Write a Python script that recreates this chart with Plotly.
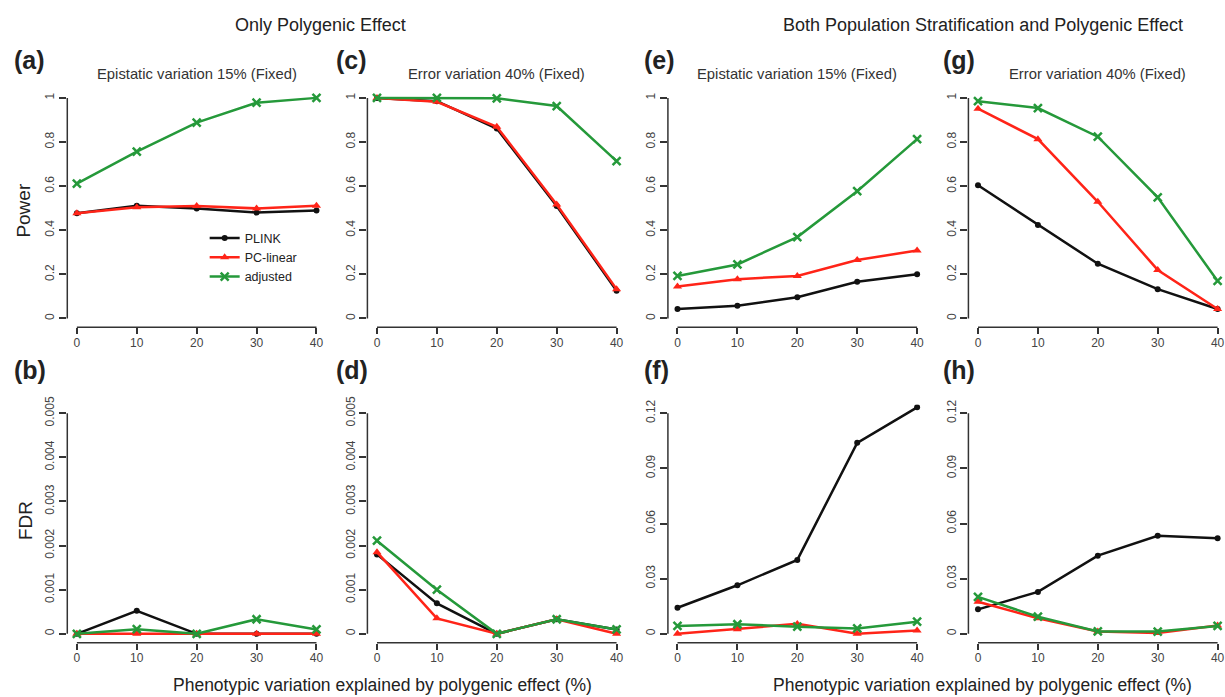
import plotly.graph_objects as go

W, H = 1225, 697

x_vals = [0, 10, 20, 30, 40]
series_names = ["PLINK", "PC-linear", "adjusted"]

# Power panels
power_a = {"PLINK": [0.477, 0.511, 0.499, 0.480, 0.489],
           "PC-linear": [0.477, 0.504, 0.510, 0.499, 0.511],
           "adjusted": [0.611, 0.756, 0.888, 0.978, 1.000]}
power_c = {"PLINK": [1.000, 0.985, 0.861, 0.510, 0.126],
           "PC-linear": [1.000, 0.982, 0.869, 0.517, 0.133],
           "adjusted": [1.000, 1.000, 0.998, 0.963, 0.713]}
power_e = {"PLINK": [0.043, 0.058, 0.096, 0.166, 0.200],
           "PC-linear": [0.145, 0.178, 0.193, 0.265, 0.308],
           "adjusted": [0.193, 0.245, 0.369, 0.577, 0.813]}
power_g = {"PLINK": [0.604, 0.424, 0.248, 0.133, 0.043],
           "PC-linear": [0.951, 0.813, 0.529, 0.220, 0.043],
           "adjusted": [0.985, 0.954, 0.824, 0.549, 0.170]}

# FDR panels
fdr_b = {"PLINK": [0.0, 0.00052, 0.0, 0.0, 0.0],
         "PC-linear": [0.0, 0.0, 0.0, 0.0, 0.0],
         "adjusted": [0.0, 0.000105, 0.0, 0.00033, 0.0001]}
fdr_d = {"PLINK": [0.0018, 0.00069, 0.0, 0.00033, 0.0001],
         "PC-linear": [0.00185, 0.00035, 0.0, 0.00033, 0.0],
         "adjusted": [0.00211, 0.0010, 0.0, 0.00033, 0.0001]}
fdr_f = {"PLINK": [0.0142, 0.0264, 0.0402, 0.1039, 0.1232],
         "PC-linear": [0.0, 0.0025, 0.0054, 0.0, 0.0018],
         "adjusted": [0.0043, 0.0052, 0.0039, 0.0029, 0.0066]}
fdr_h = {"PLINK": [0.0133, 0.0228, 0.0425, 0.0533, 0.0520],
         "PC-linear": [0.0174, 0.0085, 0.0013, 0.0005, 0.0045],
         "adjusted": [0.0201, 0.0093, 0.0013, 0.0012, 0.0043]}

power_ticks = [0, 0.2, 0.4, 0.6, 0.8, 1]
power_ticktext = ["0", "0.2", "0.4", "0.6", "0.8", "1"]
fdr_small_ticks = [0, 0.001, 0.002, 0.003, 0.004, 0.005]
fdr_small_ticktext = ["0", "0.001", "0.002", "0.003", "0.004", "0.005"]
fdr_big_ticks = [0, 0.03, 0.06, 0.09, 0.12]
fdr_big_ticktext = ["0", "0.03", "0.06", "0.09", "0.12"]

colors = {"PLINK": "#111111", "PC-linear": "#FF2418", "adjusted": "#25993A"}
symbols = {"PLINK": "circle", "PC-linear": "triangle-up", "adjusted": "x-thin"}
msize = {"PLINK": 6, "PC-linear": 8, "adjusted": 8}

# layout in pixels: columns (left,right), rows (top,bottom)
cols_px = [(67.4, 326.6), (368, 627), (669, 928), (970, 1225)]
rows_px = [(82, 323), (401, 642)]

panels = [
    (0, 0, power_a, power_ticks, power_ticktext, [-0.04, 1.04], "(a)", "Epistatic variation 15% (Fixed)"),
    (0, 1, power_c, power_ticks, power_ticktext, [-0.04, 1.04], "(c)", "Error variation 40% (Fixed)"),
    (0, 2, power_e, power_ticks, power_ticktext, [-0.04, 1.04], "(e)", "Epistatic variation 15% (Fixed)"),
    (0, 3, power_g, power_ticks, power_ticktext, [-0.04, 1.04], "(g)", "Error variation 40% (Fixed)"),
    (1, 0, fdr_b, fdr_small_ticks, fdr_small_ticktext, [-0.0002, 0.0052], "(b)", None),
    (1, 1, fdr_d, fdr_small_ticks, fdr_small_ticktext, [-0.0002, 0.0052], "(d)", None),
    (1, 2, fdr_f, fdr_big_ticks, fdr_big_ticktext, [-0.0048, 0.1248], "(f)", None),
    (1, 3, fdr_h, fdr_big_ticks, fdr_big_ticktext, [-0.0048, 0.1248], "(h)", None),
]

FONT = "Liberation Sans, Arial, Helvetica, sans-serif"
AXC = "#333333"
TXC = "#222222"
TICKF = dict(family=FONT, size=12, color="#444444")

fig = go.Figure()
layout = {}
shapes = []
annotations = []

for i, (r, c, data, yt, ytt, yr, letter, sub) in enumerate(panels):
    n = i + 1
    xa = "xaxis" if n == 1 else f"xaxis{n}"
    ya = "yaxis" if n == 1 else f"yaxis{n}"
    xr = "x" if n == 1 else f"x{n}"
    yrf = "y" if n == 1 else f"y{n}"
    x0p, x1p = cols_px[c]
    t, b = rows_px[r]
    px_per_unit = (cols_px[0][1] - cols_px[0][0]) / 43.2
    xmax = -1.6 + (x1p - x0p) / px_per_unit
    layout[xa] = dict(domain=[x0p / W, min(x1p / W, 1.0)], range=[-1.6, xmax],
                      anchor=yrf, tickvals=x_vals, ticktext=[str(v) for v in x_vals],
                      ticks="outside", ticklen=6, tickwidth=1.5, tickcolor=AXC,
                      ticklabelstandoff=-2, ticklabeloverflow="allow",
                      showline=False, showgrid=False, zeroline=False,
                      tickfont=TICKF, fixedrange=True)
    layout[ya] = dict(domain=[1 - b / H, 1 - t / H], range=yr, anchor=xr,
                      tickvals=yt, ticktext=ytt, tickangle=-90,
                      ticks="outside", ticklen=7, tickwidth=1.5, tickcolor=AXC,
                      showline=False, showgrid=False, zeroline=False,
                      tickfont=TICKF, fixedrange=True)
    # R-style detached axis lines spanning the tick range
    shapes.append(dict(type="line", xref=xr, yref=f"{yrf} domain", x0=x_vals[0], x1=x_vals[-1],
                       y0=0, y1=0, line=dict(color=AXC, width=1.5)))
    shapes.append(dict(type="line", xref=f"{xr} domain", yref=yrf, x0=0, x1=0,
                       y0=yt[0], y1=yt[-1], line=dict(color=AXC, width=1.5)))
    for name in series_names:
        mk = dict(symbol=symbols[name], size=msize[name], color=colors[name])
        if name == "adjusted":
            mk["line"] = dict(color=colors[name], width=2.5)
        fig.add_trace(go.Scatter(x=x_vals, y=data[name], mode="lines+markers",
                                 name=name, legendgroup=name, showlegend=(n == 1),
                                 line=dict(color=colors[name], width=2.5),
                                 marker=mk, xaxis=xr, yaxis=yrf))
    lx = {0: 12, 1: 335, 2: 643, 3: 943}[c]
    ly = 53 if r == 0 else 366
    annotations.append(dict(text=f"<b>{letter}</b>", x=lx / W, y=1 - ly / H,
                            xanchor="left", yanchor="middle",
                            font=dict(family=FONT, size=25, color=TXC)))
    if sub:
        cx = x0p + 21.6 * px_per_unit
        annotations.append(dict(text=sub, x=cx / W, y=1 - 67 / H,
                                xanchor="center", yanchor="middle",
                                font=dict(family=FONT, size=14.8, color="#333333")))

annotations += [
    dict(text="Only Polygenic Effect", x=321 / W, y=1 - 17 / H, xanchor="center", yanchor="middle",
         font=dict(family=FONT, size=18, color=TXC)),
    dict(text="Both Population Stratification and Polygenic Effect", x=985 / W, y=1 - 17 / H,
         xanchor="center", yanchor="middle", font=dict(family=FONT, size=18, color=TXC)),
    dict(text="Power", x=24 / W, y=1 - 204 / H, xanchor="center", yanchor="middle", textangle=-90,
         font=dict(family=FONT, size=19, color=TXC)),
    dict(text="FDR", x=25 / W, y=1 - 518 / H, xanchor="center", yanchor="middle", textangle=-90,
         font=dict(family=FONT, size=19, color=TXC)),
    dict(text="Phenotypic variation explained by polygenic effect (%)", x=383 / W, y=1 - 685 / H,
         xanchor="center", yanchor="middle", font=dict(family=FONT, size=17.5, color=TXC)),
    dict(text="Phenotypic variation explained by polygenic effect (%)", x=984 / W, y=1 - 685 / H,
         xanchor="center", yanchor="middle", font=dict(family=FONT, size=17.5, color=TXC)),
]
for a in annotations:
    a.setdefault("xref", "paper")
    a.setdefault("yref", "paper")
    a.setdefault("showarrow", False)

fig.update_layout(
    width=W, height=H, margin=dict(l=0, r=0, t=0, b=0),
    paper_bgcolor="white", plot_bgcolor="white",
    shapes=shapes, annotations=annotations,
    legend=dict(x=205 / W, y=1 - 218 / H, xanchor="left", yanchor="top",
                bgcolor="rgba(0,0,0,0)", font=dict(family=FONT, size=12.5, color=TXC),
                tracegroupgap=0, itemwidth=30),
    **layout,
)

fig.write_html("out.html", config={"displayModeBar": False},
               post_script="document.body.style.margin='0';document.body.style.overflow='hidden';")
